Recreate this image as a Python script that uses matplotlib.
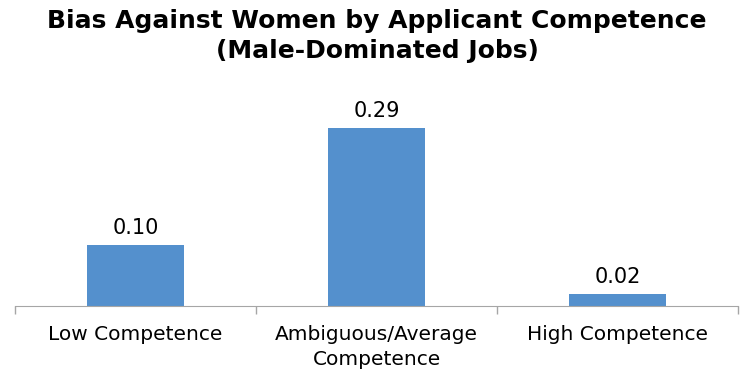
import matplotlib.pyplot as plt

# chart data
categories = ["Low Competence", "Ambiguous/Average\nCompetence", "High Competence"]
values = [0.10, 0.29, 0.02]
value_labels = ["0.10", "0.29", "0.02"]

plt.rcParams["font.family"] = ["DejaVu Sans"]

fig = plt.figure(figsize=(7.54, 3.8), dpi=100)
ax = fig.add_axes([15 / 754, 74 / 380, 723 / 754, 226 / 380])

x = range(len(categories))
bars = ax.bar(x, values, width=0.40, color="#5490CD")

for xi, v, lab in zip(x, values, value_labels):
    ax.annotate(lab, (xi, v), xytext=(0, 5), textcoords="offset points",
                ha="center", va="bottom", fontsize=15)

ax.set_xlim(-0.5, 2.5)
ax.set_ylim(0, 0.368)
ax.set_yticks([])
ax.set_xticks([-0.5, 0.5, 1.5, 2.5])
ax.set_xticklabels([])
ax.set_xticks(list(x), minor=True)
ax.set_xticklabels(categories, minor=True, fontsize=14.5, linespacing=1.35)
ax.tick_params(axis="x", which="major", length=6, color="#A6A6A6", width=1)
ax.tick_params(axis="x", which="minor", length=0, pad=14)

for side in ["top", "left", "right"]:
    ax.spines[side].set_visible(False)
ax.spines["bottom"].set_color("#A6A6A6")

fig.text(0.5, 1 - 21 / 380, "Bias Against Women by Applicant Competence",
         ha="center", va="center", fontsize=18, fontweight="bold")
fig.text(0.5, 1 - 51 / 380, "(Male-Dominated Jobs)",
         ha="center", va="center", fontsize=18, fontweight="bold")

fig.savefig("out.png", dpi=100)
